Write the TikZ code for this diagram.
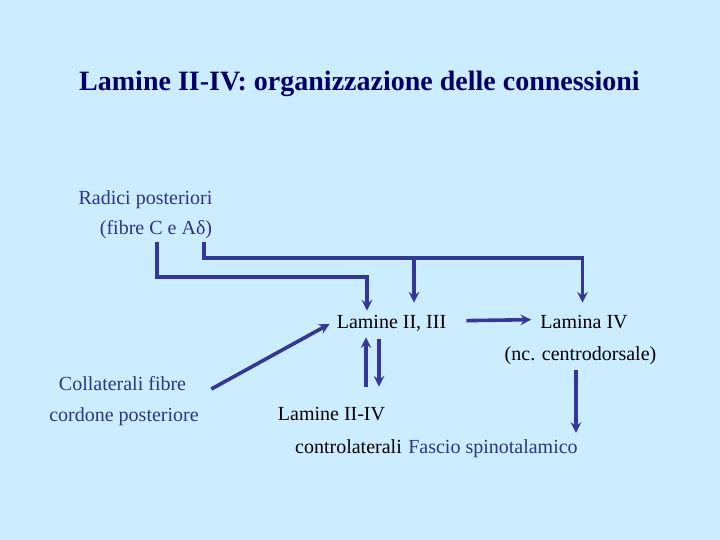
\documentclass[tikz,border=0pt]{standalone}
\usepackage{fontspec}
\setmainfont{Liberation Serif}
\usetikzlibrary{positioning,calc}
\definecolor{slide_bg}{HTML}{CCECFF}
\definecolor{navy_line}{HTML}{31389A}
\definecolor{navy_text}{HTML}{2B3584}
\definecolor{title_navy}{HTML}{000066}
\tikzset{
  caption/.style={inner sep=0pt, anchor=base, font=\fontsize{20}{24}\selectfont, text=black},
  bluecaption/.style={caption, text=navy_text},
  fibre/.style={->, >=stealth, draw=navy_line, line width=3.6pt},
}

\begin{document}
\begin{tikzpicture}[x=1pt, y=-1pt]

  \fill[slide_bg] (0,0) rectangle (720,540);
  \useasboundingbox (0,0) rectangle (720,540);

  \node[caption, text=title_navy, font=\fontsize{28}{32}\selectfont\bfseries] (title) at (359.5,91)
    {Lamine II-IV: organizzazione delle connessioni};

  % --- nodes ---------------------------------------------------------------
  \node[bluecaption] (radici) at (145.5,205) {Radici posteriori};
  \node[bluecaption] (fibreCA) at (156,235) {(fibre C e Aδ)};
  \node[caption] (lam23) at (391.5,328) {Lamine II, III};
  \node[caption] (lam4) at (584,328) {Lamina IV};
  \node[caption] (ncd) at (580.5,360) {(nc. centrodorsale)};
  \node[bluecaption] (coll1) at (122.5,390) {Collaterali fibre};
  \node[bluecaption] (coll2) at (124,421) {cordone posteriore};
  \node[caption] (lamc) at (331.5,420) {Lamine II-IV};
  \node[caption] (contro) at (348.5,453) {controlaterali};
  \node[bluecaption] (fascio) at (493,453) {Fascio spinotalamico};

  \coordinate (rootC) at (157,242);
  \coordinate (rootA) at (204,242);
  \coordinate (split) at (414,258);

  % --- root fibres ---------------------------------------------------------
  \draw[fibre] (rootC) -- ++(0,35) -| ([xshift=-24.5pt,yshift=4pt]lam23.north);
  \draw[fibre] (rootA) -- ++(0,16) -| ([xshift=-1.5pt,yshift=12pt]lam4.north);
  \draw[fibre] (split) -- ([xshift=22.5pt,yshift=12pt]lam23.north);

  % --- laminae -------------------------------------------------------------
  \draw[fibre, shorten <=20pt, shorten >=9pt] ([yshift=2pt]lam23.east) -- ([yshift=2pt]lam4.west);
  \draw[fibre] ([xshift=-4.5pt,yshift=-6pt]ncd.south) -- ([xshift=-4.5pt,yshift=6pt]ncd.south |- fascio.north);
  \draw[fibre] ([xshift=-25.5pt,yshift=20pt]lam23.south |- lamc.north) -- ([xshift=-25.5pt,yshift=-6pt]lam23.south);
  \draw[fibre] ([xshift=-12.5pt,yshift=-8pt]lam23.south) -- ([xshift=-12.5pt,yshift=20pt]lam23.south |- lamc.north);
  \draw[fibre] ([xshift=25pt,yshift=-6pt]coll1.east) -- ([xshift=-7pt,yshift=-1pt]lam23.west);

\end{tikzpicture}
\end{document}
